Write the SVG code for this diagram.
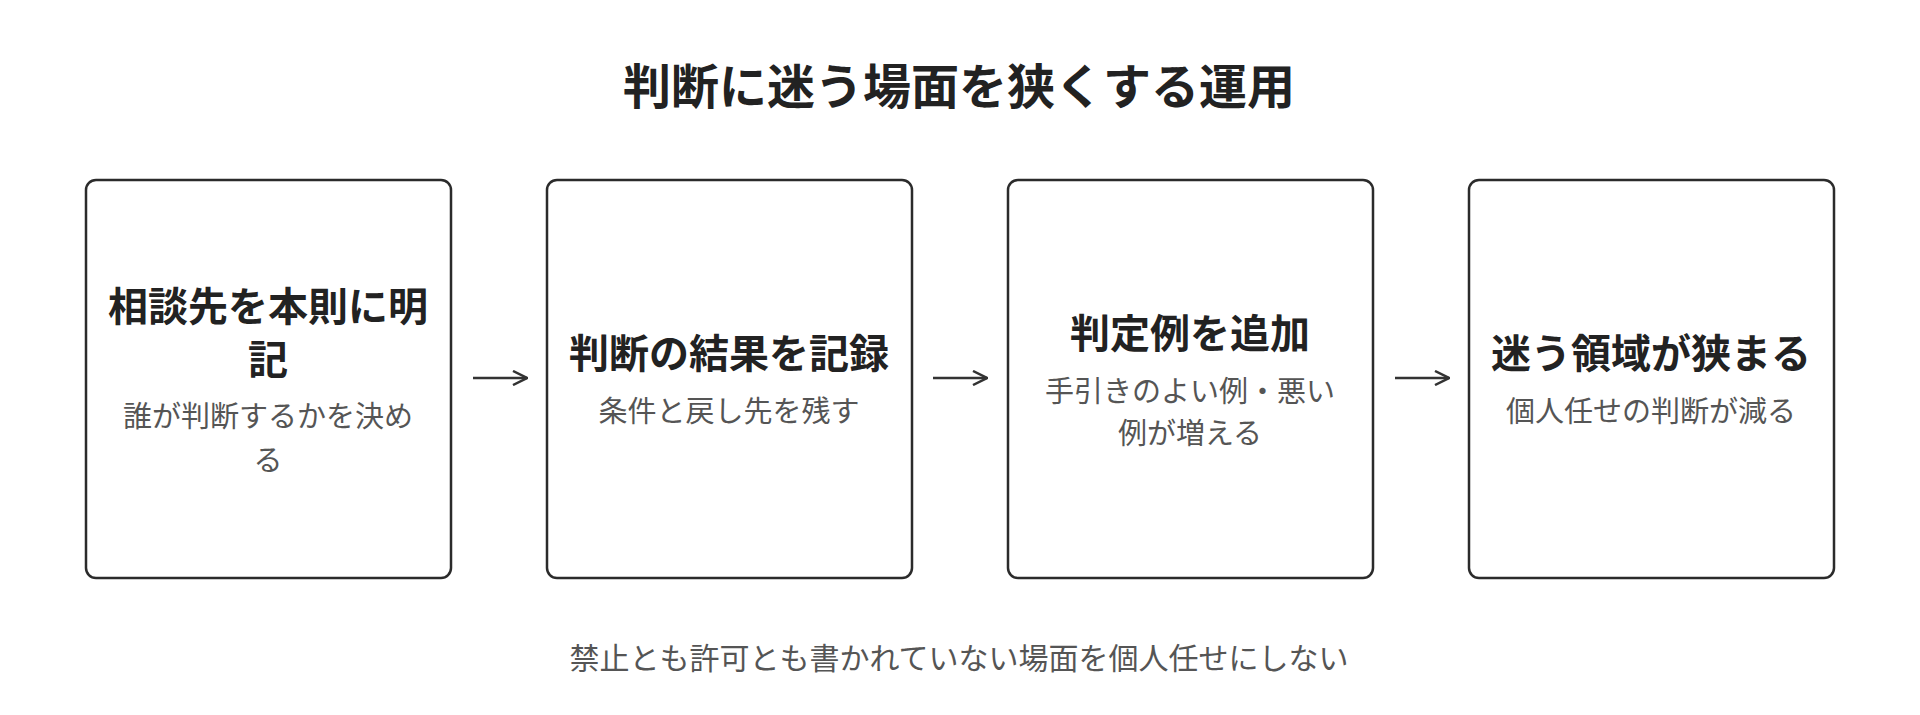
<svg xmlns="http://www.w3.org/2000/svg" width="1920" height="715" viewBox="0 0 1920 715">
<defs>
<style>
text{font-family:"Noto Sans CJK JP","Noto Sans",sans-serif;text-anchor:middle;dominant-baseline:central}
.box{fill:#fff;stroke:#2b2b2b;stroke-width:2.5}
.t{font-size:40px;font-weight:700;fill:#222}
.s{font-size:29px;fill:#555}
.h{font-size:48px;font-weight:700;fill:#222}
.f{font-size:30px;fill:#555}
.c{stroke:#333;stroke-width:2.5;fill:none}
</style>
<marker id="ah" viewBox="0 0 16 16" refX="15" refY="8" markerWidth="16" markerHeight="16" markerUnits="userSpaceOnUse" orient="auto"><path d="M1,1 L15,8 L1,15" fill="none" stroke="#333" stroke-width="2.5"/></marker>
</defs>
<rect width="1920" height="715" fill="#fff"/>
<text class="h" x="959" y="83">判断に迷う場面を狭くする運用</text>
<g id="connectors">
<line class="c" x1="473" y1="378" x2="527" y2="378" marker-end="url(#ah)"/>
<line class="c" x1="933" y1="378" x2="987" y2="378" marker-end="url(#ah)"/>
<line class="c" x1="1395" y1="378" x2="1449" y2="378" marker-end="url(#ah)"/>
</g>
<g id="n1"><rect class="box" x="86" y="180" width="365" height="398" rx="10"/>
<text class="t" x="268" y="304">相談先を本則に明</text><text class="t" x="268" y="357">記</text>
<text class="s" x="268" y="414">誰が判断するかを決め</text><text class="s" x="268" y="458">る</text></g>
<g id="n2"><rect class="box" x="547" y="180" width="365" height="398" rx="10"/>
<text class="t" x="729" y="351">判断の結果を記録</text>
<text class="s" x="729" y="409">条件と戻し先を残す</text></g>
<g id="n3"><rect class="box" x="1008" y="180" width="365" height="398" rx="10"/>
<text class="t" x="1190" y="331">判定例を追加</text>
<text class="s" x="1190" y="389">手引きのよい例・悪い</text><text class="s" x="1190" y="431">例が増える</text></g>
<g id="n4"><rect class="box" x="1469" y="180" width="365" height="398" rx="10"/>
<text class="t" x="1651" y="351">迷う領域が狭まる</text>
<text class="s" x="1651" y="409">個人任せの判断が減る</text></g>
<text class="f" x="959" y="656">禁止とも許可とも書かれていない場面を個人任せにしない</text>
</svg>
